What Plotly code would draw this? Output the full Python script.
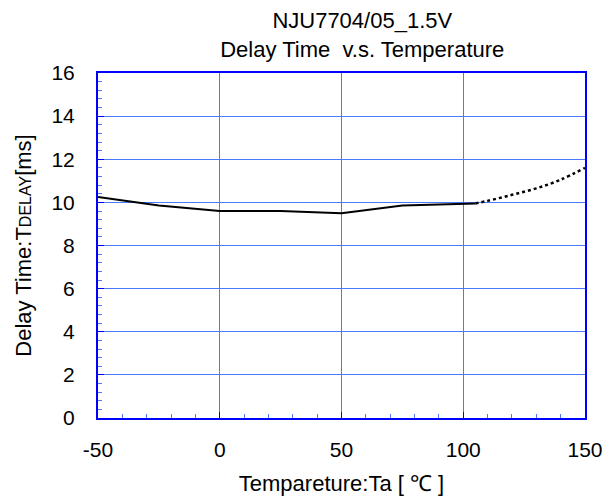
import plotly.graph_objects as go

temp_solid = [-50, -25, 0, 25, 50, 75, 105]
delay_solid = [10.25, 9.85, 9.6, 9.6, 9.5, 9.85, 9.95]
temp_dot = [105, 110, 120, 130, 140, 150]
delay_dot = [9.95, 10.07, 10.35, 10.65, 11.05, 11.6]

x_ticks = [-50, 0, 50, 100, 150]
y_ticks = [0, 2, 4, 6, 8, 10, 12, 14, 16]

fig = go.Figure()
fig.add_trace(go.Scatter(x=temp_solid, y=delay_solid, mode="lines",
                         line=dict(color="black", width=2), showlegend=False))
fig.add_trace(go.Scatter(x=temp_dot, y=delay_dot, mode="lines", line_shape="spline",
                         line=dict(color="black", width=2.5, dash="dot"), showlegend=False))

fam = "Liberation Sans, Arial"
blue = "#0000ff"
grid = "#4d79ff"

fig.update_layout(
    width=613, height=502,
    margin=dict(l=98, r=28, t=73, b=84),
    paper_bgcolor="white", plot_bgcolor="white",
    font=dict(family=fam, size=21, color="black"),
    title=dict(text="NJU7704/05_1.5V<br>Delay Time\u00a0 v.s. Temperature",
               x=0.591, xanchor="center", y=0.944, yanchor="top",
               font=dict(family=fam, size=22, color="black")),
    xaxis=dict(range=[-50, 150], tickvals=x_ticks, ticktext=[str(v) for v in x_ticks],
               showgrid=True, gridcolor=grid, gridwidth=1,
               showline=True, linecolor=blue, linewidth=2, mirror=True,
               ticks="inside", ticklen=6, tickcolor=blue, tickwidth=1,
               minor=dict(dtick=10, ticks="inside", ticklen=4, tickcolor=grid, showgrid=False),
               zeroline=False, ticklabelstandoff=12, automargin=False,
               tickfont=dict(family=fam, size=21, color="black"),
               title=dict(text="Tempareture:Ta [ ℃ ]", standoff=15,
                          font=dict(family=fam, size=22, color="black"))),
    yaxis=dict(range=[0, 16], tickvals=y_ticks, ticktext=[str(v) for v in y_ticks],
               showgrid=True, gridcolor=grid, gridwidth=1,
               showline=True, linecolor=blue, linewidth=2, mirror=True,
               ticks="inside", ticklen=6, tickcolor=blue, tickwidth=1,
               minor=dict(dtick=0.4, ticks="inside", ticklen=4, tickcolor=grid, showgrid=False),
               zeroline=False, ticklabelstandoff=17, automargin=False,
               tickfont=dict(family=fam, size=21, color="black"),
               title=dict(text="Delay Time:T<span style=\"font-size:16px\">DELAY</span>[ms]", standoff=14,
                          font=dict(family=fam, size=22, color="black"))),
)

fig.write_html("out.html")
